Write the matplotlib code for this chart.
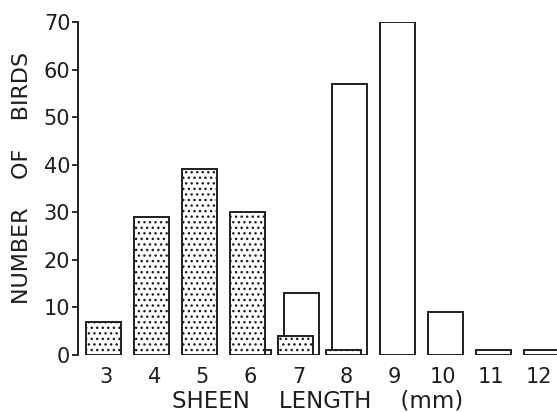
import numpy as np
import matplotlib
matplotlib.use("Agg")
import matplotlib.pyplot as plt

# sheen length classes (mm) and counts
lengths = [3, 4, 5, 6, 7, 8, 9, 10, 11, 12]
stippled_x = [3, 4, 5, 6, 7, 8]
stippled_n = [7, 29, 39, 30, 4, 1]
open_x = [6, 7, 8, 9, 10, 11, 12]
open_n = [1, 13, 57, 70, 9, 1, 1]

ink = '#1e1e1e'
plt.rcParams['font.family'] = ['DejaVu Sans']
plt.rcParams['hatch.color'] = ink
plt.rcParams['hatch.linewidth'] = 1.0

fig = plt.figure(figsize=(5.57, 4.12), dpi=100, facecolor='white')
ax = fig.add_axes([0.140, 0.1383, 0.860, 0.8083])
ax.set_facecolor('white')

width = 0.73
# open bars behind, stippled bars in front
ax.bar(np.array(open_x) + 0.065, open_n, width=width, facecolor='white',
       edgecolor=ink, linewidth=1.4, zorder=2)
ax.bar(np.array(stippled_x) - 0.06, stippled_n, width=width, facecolor='white',
       edgecolor=ink, linewidth=1.4, hatch='...', zorder=3)

ax.set_xlim(2.406, 12.385)
ax.set_ylim(0, 70)
ax.set_xticks(lengths)
ax.set_xticklabels([str(v) for v in lengths])
ax.set_yticks(range(0, 71, 10))

for side in ['top', 'right', 'bottom']:
    ax.spines[side].set_visible(False)
ax.spines['left'].set_linewidth(1.4)
ax.spines['left'].set_color(ink)

ax.tick_params(axis='x', length=0, pad=8.5, labelsize=15, labelcolor=ink)
ax.tick_params(axis='y', direction='out', length=4, width=1.3, color=ink,
               pad=1.5, labelsize=15, labelcolor=ink)

ax.set_xlabel('SHEEN    LENGTH    (mm)', fontsize=16.5, color=ink, labelpad=2)
ax.set_ylabel('NUMBER    OF    BIRDS', fontsize=16, color=ink)
ax.yaxis.set_label_coords(-0.095, 0.533)

fig.savefig('out.png', dpi=100, facecolor='white')
